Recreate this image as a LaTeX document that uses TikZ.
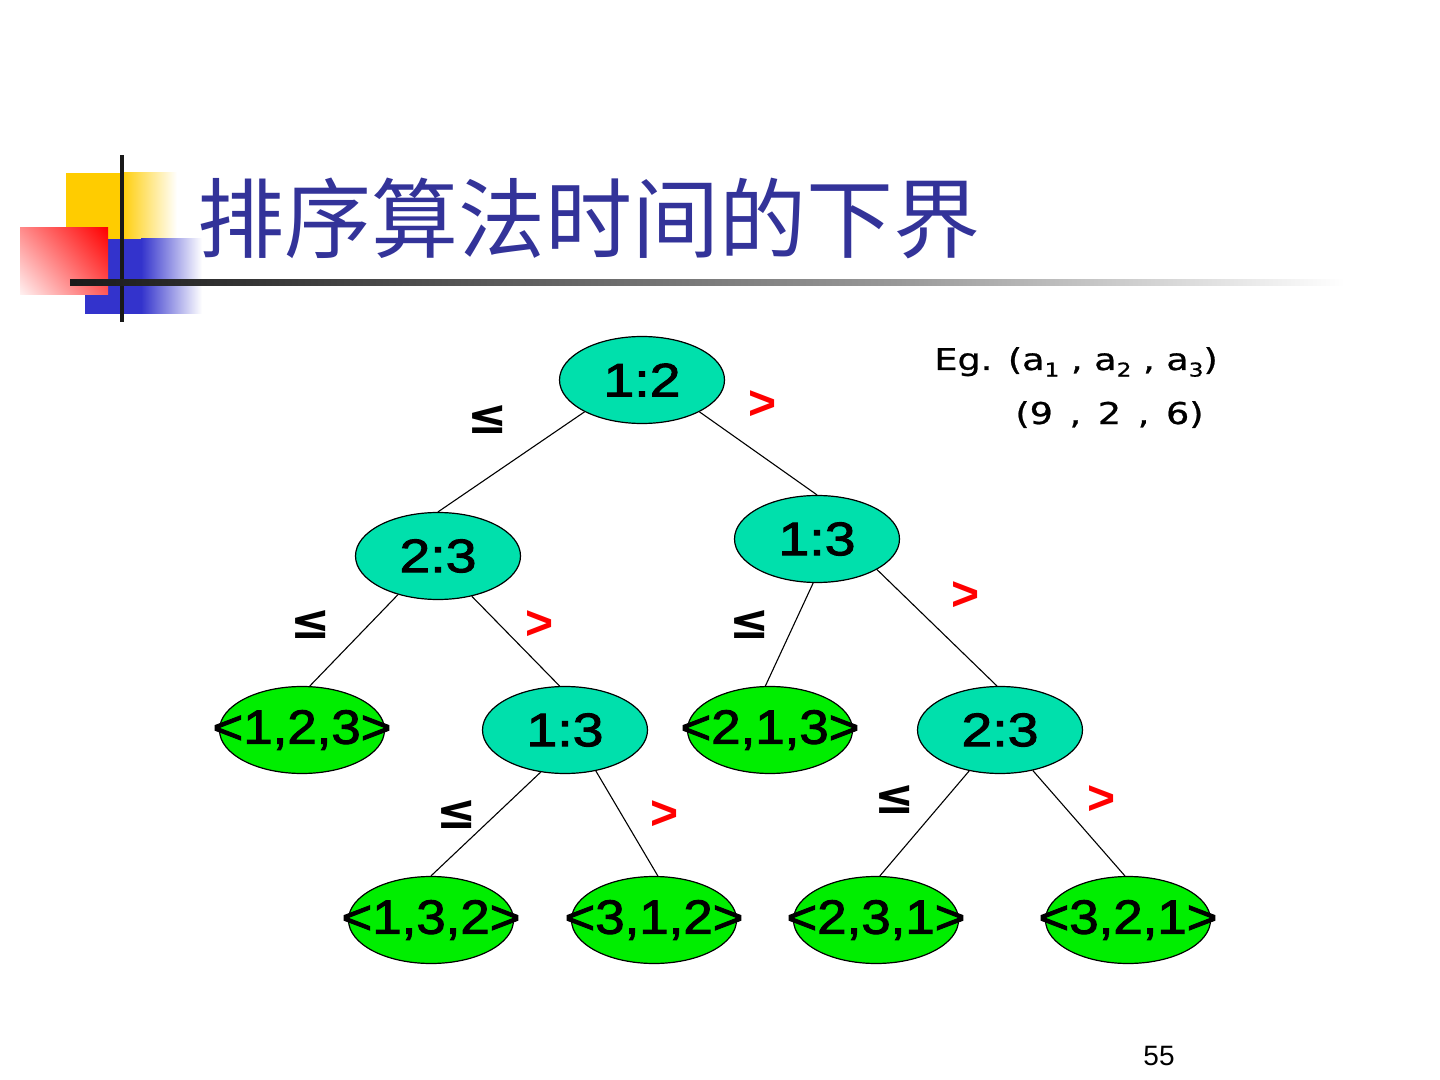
\documentclass[tikz,border=0pt]{standalone}
\usepackage{fontspec}
\setmainfont{Liberation Sans}
\newfontfamily\cjkfont{Noto Sans CJK SC}
\newfontfamily\nodefont[FakeStretch=1.18,FakeBold=2]{Liberation Sans}
\newfontfamily\leaffont[FakeStretch=1.1,FakeBold=2]{Liberation Sans}
\newfontfamily\egfont[FakeStretch=1.22,FakeBold=0.8]{DejaVu Sans}
\newfontfamily\symfont{DejaVu Sans}
\usetikzlibrary{shapes.geometric,shadings}
\definecolor{titleblue}{RGB}{51,51,153}
\definecolor{innerc}{RGB}{0,224,172}
\definecolor{leafc}{RGB}{0,238,0}
\definecolor{logoyellow}{RGB}{255,204,0}
\definecolor{logoblue}{RGB}{51,51,204}
\definecolor{logored}{RGB}{255,0,0}
\newcommand\zw[1]{\makebox[0pt]{#1}}
\newcommand\egsub[1]{\raisebox{-0.4ex}{\fontsize{9.5}{9.5}\selectfont #1}}
\begin{document}
\begin{tikzpicture}[x=0.5pt,y=-0.5pt,
  innern/.style={ellipse, draw=black, line width=0.6pt, fill=innerc,
    minimum width=82.5pt, minimum height=43.5pt, inner sep=0pt,
    font=\nodefont\fontsize{23.5}{23.5}\selectfont},
  leafn/.style={innern, fill=leafc, font=\leaffont\fontsize{24}{24}\selectfont},
  edge/.style={line width=0.55pt, draw=black},
  lelab/.style={font=\symfont\bfseries\fontsize{24}{24}\selectfont, inner sep=0pt},
  gtlab/.style={text=red, font=\bfseries\fontsize{24}{24}\selectfont, inner sep=0pt}]
\useasboundingbox (0,0) rectangle (1440,1080);
\fill[white] (0,0) rectangle (1440,1080);

% logo
\fill[logoyellow] (66,173) rectangle (121,240);
\shade[left color=logoyellow, right color=white] (120,173) rectangle (177,240);
\fill[logoblue] (85,239) rectangle (142,314);
\shade[left color=logoblue, right color=white] (141,239) rectangle (202,314);
\shade[upper right=logored, upper left=red!45, lower right=red!65, lower left=red!5] (20,228) rectangle (108,295);
\fill[black!90] (120,155) rectangle (124,322);
\shade[left color=black!90, right color=black!40] (70,280) rectangle (900,286);
\shade[left color=black!40, right color=white] (899,280) rectangle (1345,286);

% title
\node[anchor=base west, inner sep=0pt, text=titleblue, font=\cjkfont\fontsize{43.5}{43.5}\selectfont] (title) at (197,252) {排序算法时间的下界};

% example
\node[anchor=base west, inner sep=0pt, font=\egfont\fontsize{15}{15}\selectfont] (eg1) at (934,370) {Eg. (a\egsub{1} , a\egsub{2} , a\egsub{3})};
\node[anchor=base west, inner sep=0pt, font=\egfont\fontsize{15}{15}\selectfont] (eg2) at (1015,424) {(9\, ,\, 2\, ,\, 6)};

% nodes
\node[innern] (n12) at (642,380) {\zw{1:2}};
\node[innern] (n23) at (438,556) {\zw{2:3}};
\node[innern] (n13) at (817,539) {\zw{1:3}};
\node[leafn] (l123) at (302,730) {\zw{<1,2,3>}};
\node[innern] (m13) at (565,730) {\zw{1:3}};
\node[leafn] (l213) at (770,730) {\zw{<2,1,3>}};
\node[innern] (r23) at (1000,730) {\zw{2:3}};
\node[leafn] (l132) at (431,920) {\zw{<1,3,2>}};
\node[leafn] (l312) at (654,920) {\zw{<3,1,2>}};
\node[leafn] (l231) at (876,920) {\zw{<2,3,1>}};
\node[leafn] (l321) at (1128,920) {\zw{<3,2,1>}};

% edges
\draw[edge] (n12.209) -- (n23.north);
\draw[edge] (n12.331) -- (n13.north);
\draw[edge] (n23.224) -- (l123.80);
\draw[edge] (n23.310) -- (m13.97);
\draw[edge] (n13.265) -- (l213.96);
\draw[edge] (n13.333) -- (r23.94);
\draw[edge] (m13.240) -- (l132.north);
\draw[edge] (m13.307) -- (l312.85);
\draw[edge] (r23.233) -- (l231.85);
\draw[edge] (r23.309) -- (l321.94);

% edge labels
\node[lelab] (le1) at (488,420) {≤};
\node[gtlab] (gt1) at (763,405) {>};
\node[lelab] (le2) at (311,625) {≤};
\node[gtlab] (gt2) at (540,625) {>};
\node[lelab] (le3) at (750,625) {≤};
\node[gtlab] (gt3) at (966,596) {>};
\node[lelab] (le4) at (457,815) {≤};
\node[gtlab] (gt4) at (665,815) {>};
\node[lelab] (le5) at (895,800) {≤};
\node[gtlab] (gt5) at (1102,800) {>};

% page number
\node[inner sep=0pt, font=\fontsize{14}{14}\selectfont] (pg) at (1159,1056) {55};
\end{tikzpicture}
\end{document}
